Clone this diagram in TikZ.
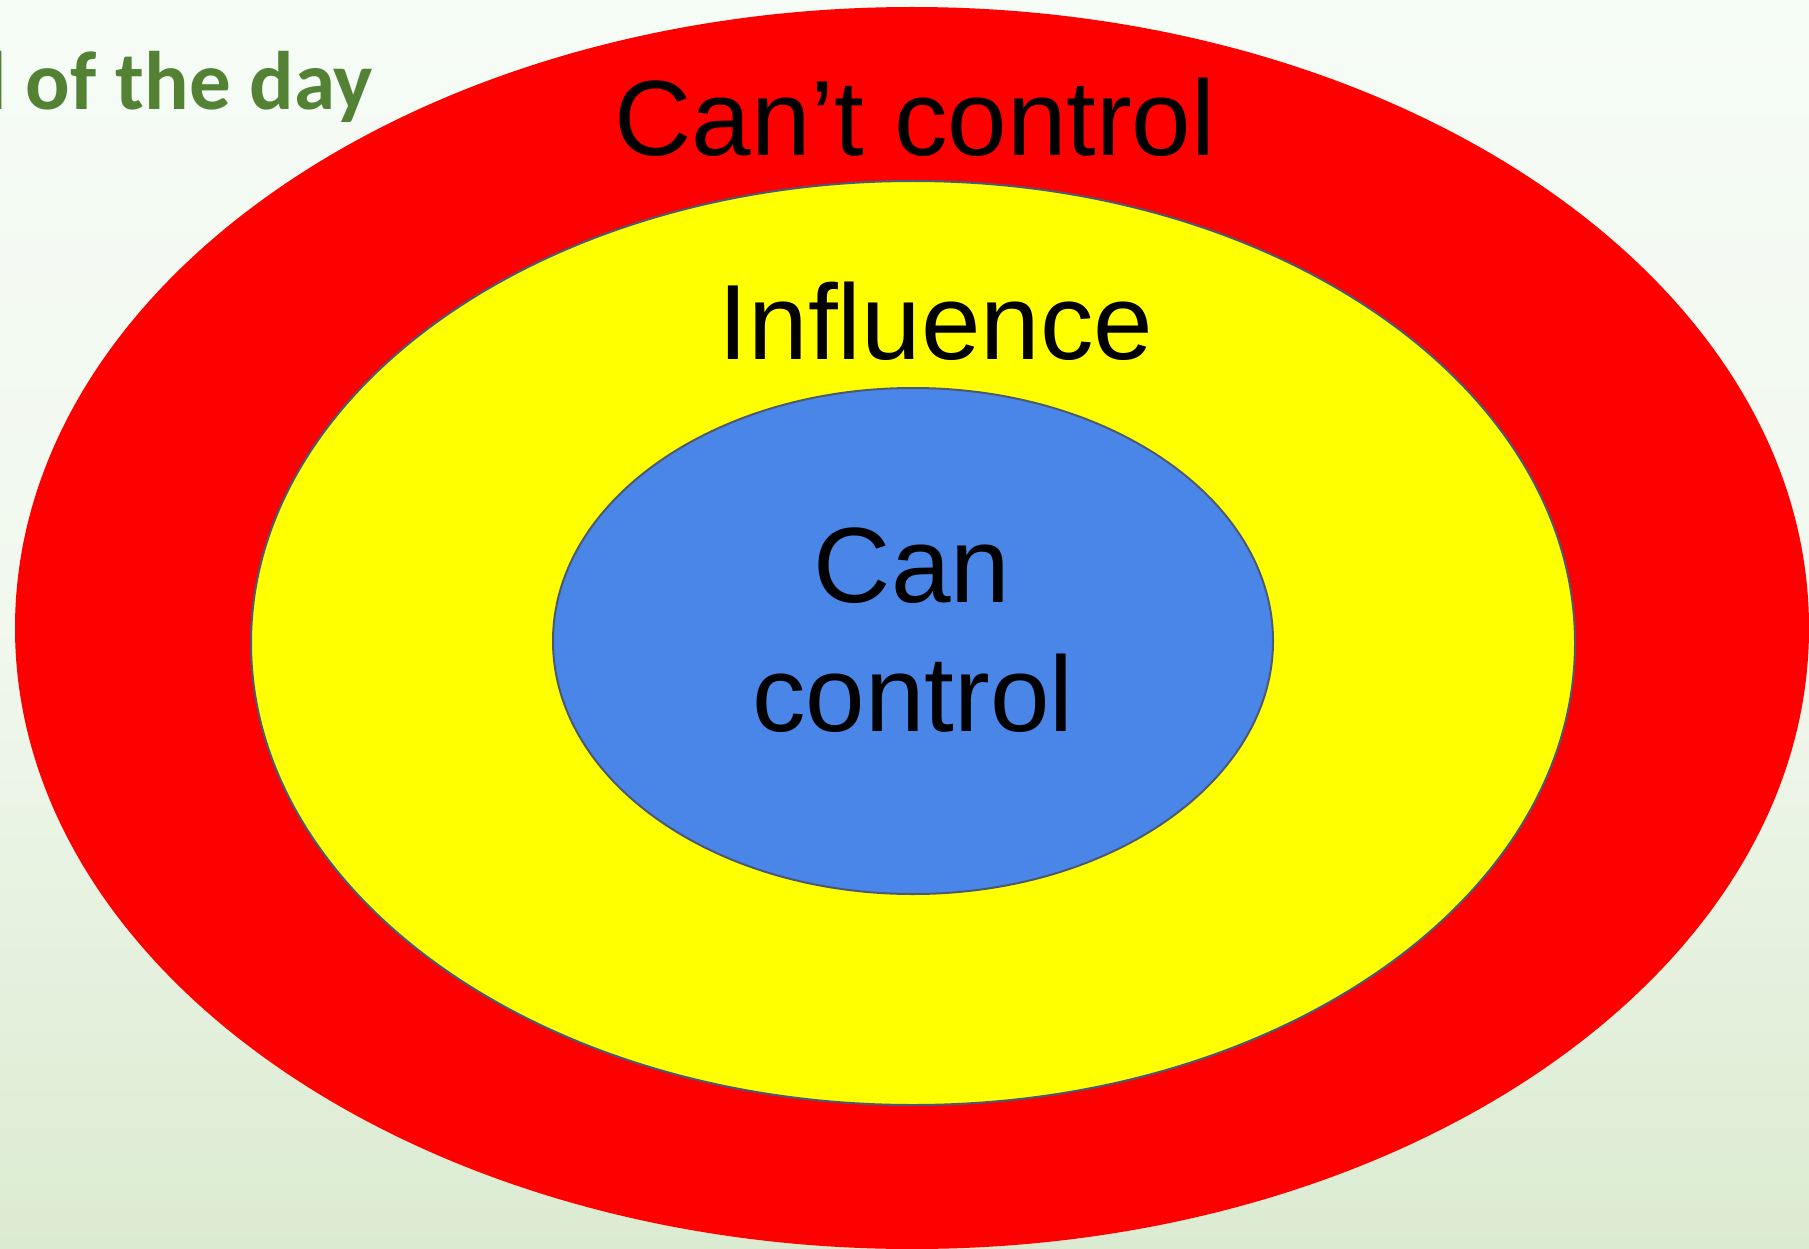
\documentclass[tikz,border=0pt]{standalone}
\usepackage{fontspec}
\setmainfont{Liberation Sans}
\newfontfamily\greenfont{Carlito}
\definecolor{bgtop}{HTML}{F6FCF6}
\definecolor{bgmid}{HTML}{F1F8EE}
\definecolor{bgbot}{HTML}{DBEBD1}
\definecolor{ringred}{HTML}{FF0000}
\definecolor{ringyellow}{HTML}{FFFF00}
\definecolor{ringblue}{HTML}{4A86E8}
\definecolor{edgegray}{HTML}{4B5A74}
\definecolor{titlegreen}{HTML}{548235}
\tikzset{
  bigtext/.style={anchor=base, inner sep=0pt, text=black, font=\fontsize{107}{120}\selectfont},
  ringedge/.style={draw=edgegray, line width=2pt}
}
\begin{document}
\begin{tikzpicture}[x=1pt,y=-1pt]
\useasboundingbox (0,0) rectangle (1809,1249);
\clip (0,0) rectangle (1809,1249);
% background gradient
\shade[top color=bgtop, bottom color=bgmid] (0,0) rectangle (1809,620);
\shade[top color=bgmid, bottom color=bgbot] (0,620) rectangle (1809,1249);
% rings
\fill[ringred] (912,628) ellipse [x radius=897, y radius=621];
\path[fill=ringyellow, ringedge] (913,643) ellipse [x radius=662, y radius=462];
\path[fill=ringblue, ringedge] (913,641) ellipse [x radius=360, y radius=253];
% texts
\node[bigtext] (cant) at (915,156) {Can’t control};
\node[bigtext] (infl) at (936,359) {Influence};
\node[bigtext] (can) at (912,602) {Can};
\node[bigtext] (ctrl) at (913,731) {control};
\node[anchor=base east, inner sep=0pt, text=titlegreen, font=\greenfont\bfseries\fontsize{83}{92}\selectfont] (day) at (373,110) {l of the day};
\end{tikzpicture}
\end{document}
